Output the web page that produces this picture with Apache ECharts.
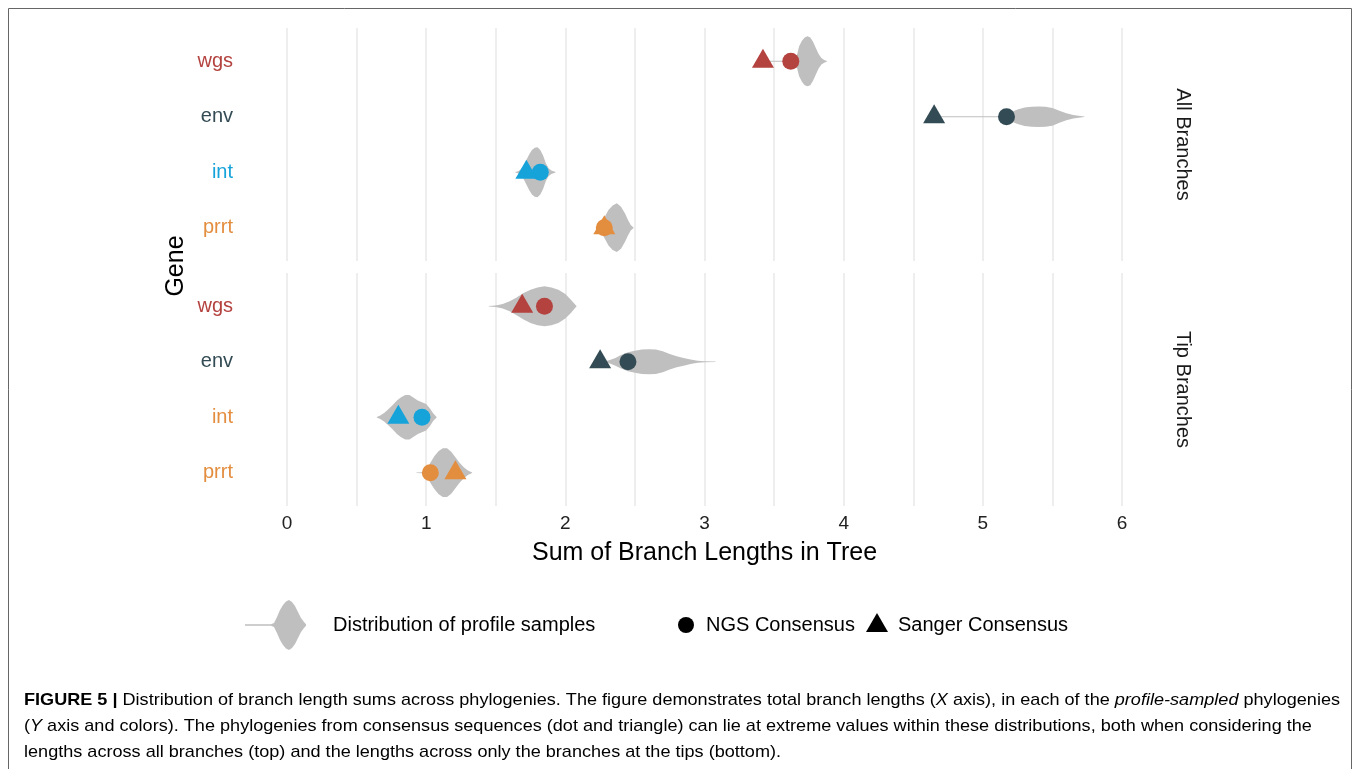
<!DOCTYPE html>
<html>
<head>
<meta charset="utf-8">
<script src="https://cdn.jsdelivr.net/npm/echarts@6/dist/echarts.min.js"></script>
<style>
html,body{margin:0;padding:0;background:#fff;}
#c{width:1360px;height:769px;}
</style>
</head>
<body>
<div id="c"></div>
<script>
// ---------------- data ----------------
const genes = ['wgs', 'env', 'int', 'prrt'];
const facetNames = ['All Branches', 'Tip Branches'];
const xTicks = [0, 1, 2, 3, 4, 5, 6];

// consensus values (sum of branch lengths)
const ngsAll = [3.62, 5.17, 1.82, 2.28];
const sangerAll = [3.42, 4.65, 1.72, 2.28];
const ngsTip = [1.85, 2.45, 0.97, 1.03];
const sangerTip = [1.69, 2.25, 0.80, 1.21];

// violin profiles: [value, half-width in row units]
const violinAllWgs = [[3.42,0.008],[3.64,0.008],[3.655,0.03],[3.665,0.12],[3.68,0.27],[3.70,0.37],[3.72,0.43],[3.74,0.45],[3.76,0.43],[3.78,0.35],[3.80,0.24],[3.82,0.13],[3.84,0.06],[3.86,0.025],[3.88,0.006]];
const violinAllEnv = [[4.65,0.008],[5.12,0.008],[5.16,0.04],[5.20,0.08],[5.25,0.13],[5.30,0.165],[5.35,0.18],[5.40,0.185],[5.45,0.18],[5.50,0.16],[5.55,0.11],[5.60,0.065],[5.65,0.03],[5.70,0.012],[5.73,0.005]];
const violinAllInt = [[1.64,0.005],[1.66,0.02],[1.68,0.05],[1.70,0.12],[1.72,0.22],[1.74,0.32],[1.76,0.40],[1.78,0.44],[1.80,0.45],[1.82,0.40],[1.84,0.30],[1.86,0.16],[1.88,0.07],[1.90,0.03],[1.93,0.005]];
const violinAllPrrt = [[2.22,0.005],[2.25,0.05],[2.28,0.18],[2.31,0.32],[2.34,0.40],[2.37,0.44],[2.40,0.38],[2.43,0.25],[2.45,0.14],[2.47,0.05],[2.49,0.005]];
const violinTipWgs = [[1.45,0.006],[1.50,0.015],[1.55,0.04],[1.60,0.09],[1.65,0.16],[1.70,0.24],[1.75,0.30],[1.80,0.34],[1.85,0.36],[1.90,0.34],[1.95,0.30],[2.00,0.22],[2.04,0.12],[2.07,0.03],[2.08,0.005]];
const violinTipEnv = [[2.28,0.005],[2.32,0.03],[2.36,0.07],[2.40,0.12],[2.45,0.17],[2.50,0.20],[2.55,0.22],[2.60,0.225],[2.65,0.22],[2.70,0.19],[2.75,0.14],[2.80,0.10],[2.85,0.07],[2.90,0.04],[2.95,0.02],[3.00,0.01],[3.08,0.004]];
const violinTipInt = [[0.645,0.005],[0.67,0.03],[0.70,0.08],[0.73,0.15],[0.76,0.22],[0.79,0.30],[0.82,0.36],[0.85,0.40],[0.88,0.40],[0.91,0.35],[0.94,0.30],[0.97,0.27],[1.00,0.24],[1.03,0.15],[1.05,0.07],[1.075,0.005]];
const violinTipPrrt = [[0.93,0.005],[0.97,0.01],[1.00,0.05],[1.03,0.18],[1.06,0.30],[1.09,0.39],[1.12,0.44],[1.15,0.44],[1.18,0.38],[1.21,0.28],[1.24,0.18],[1.27,0.10],[1.30,0.04],[1.33,0.005]];

// ---------------- style ----------------
const geneColors = ['#B4423F', '#334B54', '#15A3DA', '#E38D3F'];
const labelColorsAll = ['#B4423F', '#334B54', '#15A3DA', '#E38D3F'];
const labelColorsTip = ['#B4423F', '#334B54', '#E38D3F', '#E38D3F'];
const violinColor = '#BFBFBF';
const gridColor = '#E8E8E8';
const FONT = '"Liberation Sans", Arial, Helvetica, sans-serif';

const violinsAll = [violinAllWgs, violinAllEnv, violinAllInt, violinAllPrrt];
const violinsTip = [violinTipWgs, violinTipEnv, violinTipInt, violinTipPrrt];

const chart = echarts.init(document.getElementById('c'), null, {renderer: 'canvas'});

function xAxisFor(idx, showLabels) {
  return {
    type: 'value', gridIndex: idx, min: 0, max: 6, interval: 0.5,
    axisLine: {show: false}, axisTick: {show: false},
    splitLine: {show: true, lineStyle: {color: gridColor, width: 1.5}},
    axisLabel: {
      show: showLabels, color: '#222', fontSize: 19, fontFamily: FONT, margin: 8,
      formatter: v => (xTicks.indexOf(v) >= 0 ? String(v) : '')
    },
    name: showLabels ? 'Sum of Branch Lengths in Tree' : '',
    nameLocation: 'middle', nameGap: 35,
    nameTextStyle: {fontSize: 25, color: '#000', fontFamily: FONT}
  };
}

function yAxisFor(idx, colors) {
  const rich = {};
  colors.forEach((c, i) => { rich['c' + i] = {color: c, fontSize: 20, fontFamily: FONT}; });
  return {
    type: 'value', gridIndex: idx, min: -0.6, max: 3.6, inverse: true,
    axisLine: {show: false}, axisTick: {show: false}, splitLine: {show: false},
    axisLabel: {
      show: true, margin: 54, customValues: [0, 1, 2, 3],
      formatter: v => '{c' + v + '|' + genes[v] + '}', rich: rich
    }
  };
}

function violinSeries(idx, profiles) {
  return {
    type: 'custom', xAxisIndex: idx, yAxisIndex: idx, silent: true,
    data: profiles.map((p, i) => [p[0][0], i]),
    encode: {x: 0, y: 1},
    renderItem: function (params, api) {
      const row = api.value(1);
      const prof = profiles[row];
      const top = prof.map(p => api.coord([p[0], row - p[1]]));
      const bot = prof.slice().reverse().map(p => api.coord([p[0], row + p[1]]));
      return {type: 'polygon', shape: {points: top.concat(bot)}, style: {fill: violinColor}};
    },
    z: 2
  };
}

function pointSeries(idx, values, symbol, size, offset, name) {
  return {
    type: 'scatter', name: name, xAxisIndex: idx, yAxisIndex: idx, symbol: symbol, symbolSize: size,
    symbolOffset: offset, silent: true,
    data: values.map((v, i) => ({value: [v, i], itemStyle: {color: geneColors[i], opacity: 1}})),
    z: symbol === 'triangle' ? 4 : 3
  };
}

// ---------------- caption (fit width) ----------------
const capSize = 17;
const capLines = [
  {parts: [['b', 'FIGURE 5 |'], ['n', ' Distribution of branch length sums across phylogenies. The figure demonstrates total branch lengths ('], ['i', 'X'], ['n', ' axis), in each of the '], ['i', 'profile-sampled'], ['n', ' phylogenies']], y: 700},
  {parts: [['n', '('], ['i', 'Y'], ['n', ' axis and colors). The phylogenies from consensus sequences (dot and triangle) can lie at extreme values within these distributions, both when considering the']], y: 726},
  {parts: [['n', 'lengths across all branches (top) and the lengths across only the branches at the tips (bottom).']], y: 752}
];
const mctx = document.createElement('canvas').getContext('2d');
function measureParts(parts) {
  let w = 0;
  parts.forEach(p => {
    const st = p[0] === 'b' ? 'bold ' : (p[0] === 'i' ? 'italic ' : '');
    mctx.font = st + capSize + 'px ' + FONT;
    w += mctx.measureText(p[1]).width;
  });
  return w;
}
const capScale = 1316 / measureParts(capLines[0].parts);
const capRich = {
  n: {fontSize: capSize, fontFamily: FONT, color: '#231F20'},
  b: {fontSize: capSize, fontFamily: FONT, color: '#000', fontWeight: 'bold'},
  i: {fontSize: capSize, fontFamily: FONT, color: '#231F20', fontStyle: 'italic'}
};
const captionGraphics = capLines.map(l => ({
  type: 'text', x: 24, y: l.y, scaleX: capScale, silent: true,
  style: {
    text: l.parts.map(p => '{' + p[0] + '|' + p[1] + '}').join(''),
    rich: capRich, verticalAlign: 'middle', align: 'left'
  }
}));

// legend violin glyph (decoration)
const legendGlyph = (function () {
  const cx = 289, cy = 625;
  const prof = [[-44,0.7],[-18,0.7],[-15,2],[-12,8],[-9,15],[-6,20],[-3,23.5],[0,25],[3,23],[6,19],[9,13],[12,7],[15,3],[17,0.7]];
  const top = prof.map(p => [cx + p[0], cy - p[1]]);
  const bot = prof.slice().reverse().map(p => [cx + p[0], cy + p[1]]);
  return top.concat(bot);
})();

const option = {
  backgroundColor: '#fff',
  animation: false,
  textStyle: {fontFamily: FONT},
  grid: [
    {left: 287, right: 238, top: 28, height: 233},
    {left: 287, right: 238, top: 273, height: 233}
  ],
  xAxis: [xAxisFor(0, false), xAxisFor(1, true)],
  yAxis: [yAxisFor(0, labelColorsAll), yAxisFor(1, labelColorsTip)],
  series: [
    violinSeries(0, violinsAll),
    violinSeries(1, violinsTip),
    pointSeries(0, ngsAll, 'circle', 17, [0, 0], 'NGS Consensus'),
    pointSeries(1, ngsTip, 'circle', 17, [0, 0], 'NGS Consensus'),
    pointSeries(0, sangerAll, 'triangle', [22, 19], [0, -3], 'Sanger Consensus'),
    pointSeries(1, sangerTip, 'triangle', [22, 19], [0, -3], 'Sanger Consensus')
  ],
  graphic: [
    {type: 'rect', shape: {x: 8.5, y: 8.5, width: 1343, height: 800}, style: {fill: 'none', stroke: '#666', lineWidth: 1}, silent: true, z: -10},
    {type: 'text', x: 176, y: 266, rotation: Math.PI / 2, silent: true,
      style: {text: 'Gene', fontSize: 25, fontFamily: FONT, fill: '#000', align: 'center', verticalAlign: 'middle'}},
    {type: 'text', x: 1183, y: 144.5, rotation: -Math.PI / 2, silent: true,
      style: {text: facetNames[0], fontSize: 20, fontFamily: FONT, fill: '#1a1a1a', align: 'center', verticalAlign: 'middle'}},
    {type: 'text', x: 1183, y: 389.5, rotation: -Math.PI / 2, silent: true,
      style: {text: facetNames[1], fontSize: 20, fontFamily: FONT, fill: '#1a1a1a', align: 'center', verticalAlign: 'middle'}},
    // legend
    {type: 'polygon', shape: {points: legendGlyph}, style: {fill: violinColor}, silent: true},
    {type: 'text', x: 333, y: 625, silent: true,
      style: {text: 'Distribution of profile samples', fontSize: 20, fontFamily: FONT, fill: '#000', verticalAlign: 'middle'}},
    {type: 'circle', shape: {cx: 686, cy: 625, r: 8}, style: {fill: '#000'}, silent: true},
    {type: 'text', x: 706, y: 625, silent: true,
      style: {text: 'NGS Consensus', fontSize: 20, fontFamily: FONT, fill: '#000', verticalAlign: 'middle'}},
    {type: 'polygon', shape: {points: [[877, 613], [888, 632], [866, 632]]}, style: {fill: '#000'}, silent: true},
    {type: 'text', x: 898, y: 625, silent: true,
      style: {text: 'Sanger Consensus', fontSize: 20, fontFamily: FONT, fill: '#000', verticalAlign: 'middle'}}
  ].concat(captionGraphics)
};

chart.setOption(option);
</script>
</body>
</html>
